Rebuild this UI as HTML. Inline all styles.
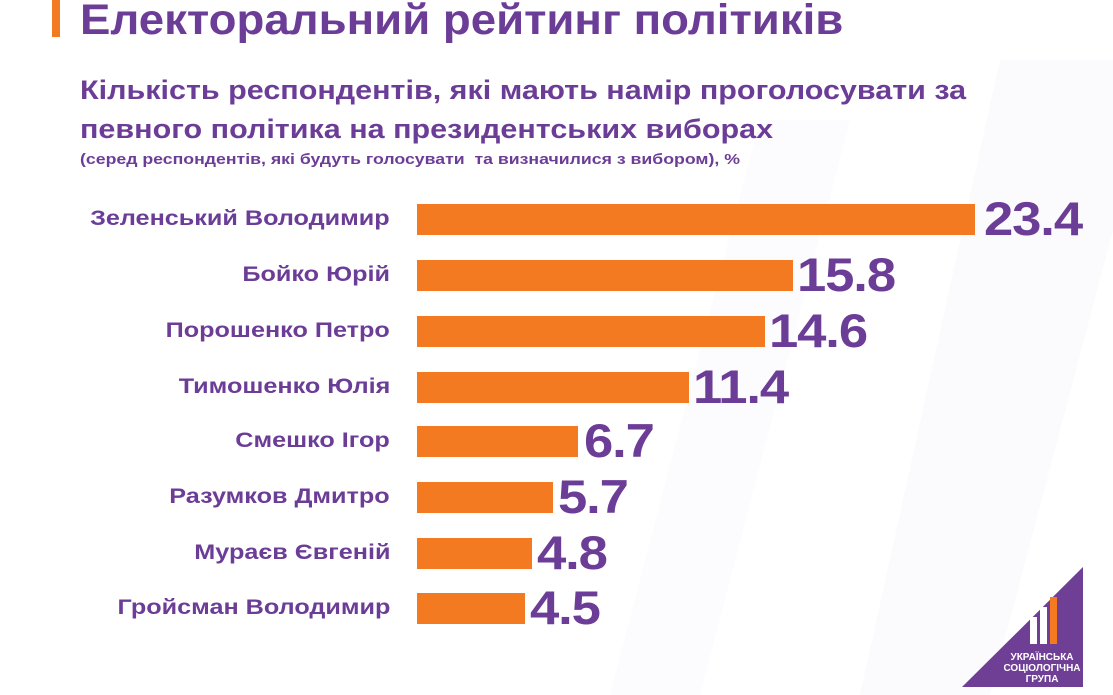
<!DOCTYPE html>
<html><head><meta charset="utf-8"><style>
body{margin:0;width:1113px;height:695px;background:#fff;overflow:hidden;position:relative;font-family:"Liberation Sans","DejaVu Sans",sans-serif;font-weight:bold;color:#6c3d97}
.a{position:absolute;white-space:nowrap}
.lab{position:absolute;right:723px;font-size:21px;line-height:30px;transform:scaleX(1.2);transform-origin:right center;white-space:nowrap}
.bar{position:absolute;left:417px;height:31px;background:#f47a22}
.val{position:absolute;font-size:47px;line-height:50px;letter-spacing:-1px;transform:scaleX(1.12);transform-origin:left center}
</style></head><body>
<svg class="a" style="left:0;top:0" width="1113" height="695">
<polygon points="1000,60 1113,60 1113,230 990,695 860,695" fill="#fbfafc"/>
<polygon points="760,120 850,120 700,695 610,695" fill="#fcfbfd"/>
<polygon points="962,687 1083,567 1083,687" fill="#6f3f96"/>
<rect x="1030" y="617" width="7" height="27" fill="#fff"/>
<rect x="1040" y="607" width="7" height="37" fill="#fff"/>
<rect x="1050" y="597" width="7" height="47" fill="#f47a22"/>
<text x="1042" y="660" font-size="10" fill="#fff" text-anchor="middle" font-family="Liberation Sans" font-weight="bold">УКРАЇНСЬКА</text>
<text x="1042" y="671" font-size="10" fill="#fff" text-anchor="middle" font-family="Liberation Sans" font-weight="bold">СОЦІОЛОГІЧНА</text>
<text x="1042" y="682" font-size="10" fill="#fff" text-anchor="middle" font-family="Liberation Sans" font-weight="bold">ГРУПА</text>
</svg>
<div class="a" style="left:52px;top:0;width:8px;height:37px;background:#f47a22"></div>
<div class="a" style="left:80px;top:-5px;font-size:43px;line-height:50px;transform:scaleX(1.06);transform-origin:left">Електоральний рейтинг політиків</div>
<div class="a" style="left:80px;top:71px;font-size:27px;line-height:39px;transform:scaleX(1.13);transform-origin:left">Кількість респондентів, які мають намір проголосувати за<br>певного політика на президентських виборах</div>
<div class="a" style="left:80px;top:150px;font-size:14.5px;line-height:20px;transform:scaleX(1.22);transform-origin:left">(серед респондентів, які будуть голосувати&nbsp; та визначилися з вибором), %</div>

<div class="lab" style="top:204px">Зеленський Володимир</div><div class="bar" style="top:204px;width:558px"></div><div class="val" style="left:984px;top:194px">23.4</div>
<div class="lab" style="top:260px">Бойко Юрій</div><div class="bar" style="top:260px;width:376px"></div><div class="val" style="left:797px;top:250px">15.8</div>
<div class="lab" style="top:316px">Порошенко Петро</div><div class="bar" style="top:316px;width:348px"></div><div class="val" style="left:769px;top:306px">14.6</div>
<div class="lab" style="top:372px">Тимошенко Юлія</div><div class="bar" style="top:372px;width:272px"></div><div class="val" style="left:693px;top:362px">11.4</div>
<div class="lab" style="top:426px">Смешко Ігор</div><div class="bar" style="top:426px;width:161px"></div><div class="val" style="left:584px;top:416px">6.7</div>
<div class="lab" style="top:482px">Разумков Дмитро</div><div class="bar" style="top:482px;width:136px"></div><div class="val" style="left:558px;top:472px">5.7</div>
<div class="lab" style="top:538px">Мураєв Євгеній</div><div class="bar" style="top:538px;width:115px"></div><div class="val" style="left:537px;top:528px">4.8</div>
<div class="lab" style="top:593px">Гройсман Володимир</div><div class="bar" style="top:593px;width:108px"></div><div class="val" style="left:530px;top:583px">4.5</div>
</body></html>
